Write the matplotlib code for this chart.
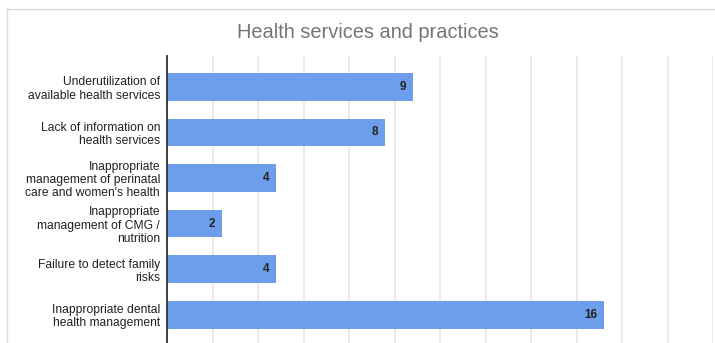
import numpy as np
import matplotlib.pyplot as plt
from matplotlib.lines import Line2D

plt.rcParams['font.family'] = ['Liberation Sans', 'DejaVu Sans']

categories = [
    "Underutilization of\navailable health services",
    "Lack of information on\nhealth services",
    "Inappropriate\nmanagement of perinatal\ncare and women's health",
    "Inappropriate\nmanagement of CMG /\nnutrition",
    "Failure to detect family\nrisks",
    "Inappropriate dental\nhealth management",
]
values = [9, 8, 4, 2, 4, 16]

W, H = 715, 343
fig = plt.figure(figsize=(W / 100, H / 100), dpi=100)

# light frame of the chart card (top and left edges)
fig.add_artist(Line2D([7 / W, 7 / W], [0, 1 - 9 / H], color="#d9d9d9", lw=1.0))
fig.add_artist(Line2D([7 / W, 1], [1 - 9 / H, 1 - 9 / H], color="#d9d9d9", lw=1.0))

left, right, top, bottom = 167, 713, 56, 343
ax = fig.add_axes([left / W, 1 - bottom / H, (right - left) / W, (bottom - top) / H])

y = np.arange(len(categories))
ax.barh(y, values, height=0.615, color="#6d9eeb", zorder=3)

for yi, v in zip(y, values):
    ax.text(v - 0.25, yi, str(v), ha="right", va="center", fontsize=8.5,
            color="#222222", fontweight="bold", zorder=4)

ax.set_xlim(0, 20)
ax.set_ylim(5.626, -0.681)
ax.set_xticks(np.linspace(0, 20, 13))
ax.set_xticklabels([])
ax.tick_params(axis="x", length=0)
ax.grid(axis="x", color="#e8e8e8", lw=1.3, zorder=0)

ax.set_yticks(y)
ax.set_yticklabels(categories, fontsize=8.7, color="#222222", linespacing=1.12)
ax.tick_params(axis="y", length=0, pad=5)

for s in ["top", "right", "bottom"]:
    ax.spines[s].set_visible(False)
ax.spines["left"].set_color("#333333")
ax.spines["left"].set_linewidth(1.3)
ax.spines["left"].set_zorder(5)

fig.text(368 / W, 1 - 32 / H, "Health services and practices", ha="center", va="center",
         fontsize=14.4, color="#757575")

fig.savefig("out.png", dpi=100)
